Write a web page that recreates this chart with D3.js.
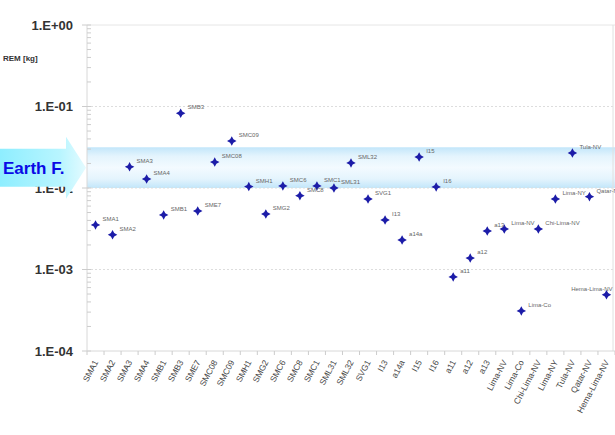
<!doctype html>
<html lang="en">
<head>
  <meta charset="utf-8">
  <title>REM log chart</title>
  <script src="https://d3js.org/d3.v7.min.js"></script>
  <style>
    html, body { margin: 0; padding: 0; background: #fff; }
    body { font-family: "Liberation Sans", Arial, sans-serif; }
    .ylab { font-size: 13px; font-weight: bold; fill: #333; }
    .xlab { font-size: 8.5px; fill: #444; }
    .plab { font-size: 6px; fill: #666; }
  </style>
</head>
<body>
  <div id="chart"></div>
  <script>
    // sample names along the x axis
    const categories = ["SMA1","SMA2","SMA3","SMA4","SMB1","SMB3","SME7","SMC08","SMC09","SMH1",
      "SMG2","SMC6","SMC8","SMC1","SML31","SML32","SVG1","I13","a14a","I15","I16","a11","a12","a13",
      "Lima-NV","Lima-Co","Chi-Lima-NV","Lima-NY","Tula-NV","Qatar-NV","Hema-Lima-NV"];
    // REM [kg]
    const rem = [0.00352,0.00267,0.0182,0.0129,0.00467,0.0826,0.00522,0.0208,0.0377,0.0104,
      0.0048,0.0106,0.00805,0.0106,0.0100,0.0203,0.00733,0.00405,0.0023,0.024,0.0103,
      0.00081,0.00138,0.00297,0.00314,0.00031,0.00314,0.00733,0.0269,0.00782,0.00049];
    const yTicks = [1, 0.1, 0.01, 0.001, 0.0001];
    const yTickLabels = ["1.E+00","1.E-01","1.E-02","1.E-03","1.E-04"];
    const earthBand = [0.01, 0.0316];

    const width = 615, height = 435;
    const margin = { top: 25, right: 0, bottom: 84, left: 87 };
    const innerW = 528, innerH = height - margin.top - margin.bottom;

    const svg = d3.select('#chart').append('svg')
      .attr('width', width).attr('height', height);

    const defs = svg.append('defs');
    const bandGrad = defs.append('linearGradient').attr('id','bandGrad')
      .attr('x1',0).attr('y1',0).attr('x2',0).attr('y2',1);
    [[0,'#c2e6fa'],[0.22,'#e4f4fd'],[0.5,'#f3faff'],[0.78,'#e4f4fd'],[1,'#c2e6fa']]
      .forEach(s => bandGrad.append('stop').attr('offset',s[0]).attr('stop-color',s[1]));
    const arrowGrad = defs.append('linearGradient').attr('id','arrowGrad')
      .attr('x1',0).attr('y1',0).attr('x2',1).attr('y2',0);
    [[0,'#8eeeff'],[0.7,'#b8f5ff'],[1,'#e4fbff']]
      .forEach(s => arrowGrad.append('stop').attr('offset',s[0]).attr('stop-color',s[1]));

    const g = svg.append('g').attr('transform',`translate(${margin.left},${margin.top})`);

    const x = d3.scaleBand().domain(d3.range(categories.length)).range([0, innerW]);
    const y = d3.scaleLog().domain([0.0001, 1]).range([innerH, 0]);

    // Earth F. band
    g.append('rect')
      .attr('x', 0).attr('width', innerW)
      .attr('y', y(earthBand[1])).attr('height', y(earthBand[0]) - y(earthBand[1]))
      .attr('fill', 'url(#bandGrad)');

    // dotted decade gridlines
    g.selectAll('.grid').data(yTicks.slice(1, -1)).join('line')
      .attr('x1', 0).attr('x2', innerW)
      .attr('y1', d => y(d)).attr('y2', d => y(d))
      .attr('stroke', '#ddd').attr('stroke-dasharray', '2,2');

    // frame
    g.append('line').attr('x1',0).attr('x2',innerW).attr('y1',0).attr('y2',0).attr('stroke','#e6e6e6');
    g.append('line').attr('x1',innerW-2).attr('x2',innerW-2).attr('y1',0).attr('y2',innerH).attr('stroke','#e0e0e0');

    // y axis with minor inner ticks
    const minor = [];
    for (let e = -4; e < 0; e++) for (let m = 2; m <= 9; m++) minor.push(m * Math.pow(10, e));
    g.append('line').attr('x1',0).attr('x2',0).attr('y1',0).attr('y2',innerH).attr('stroke','#d8d8d8');
    g.selectAll('.minor').data(minor).join('line')
      .attr('x1', 0).attr('x2', 4)
      .attr('y1', d => y(d)).attr('y2', d => y(d))
      .attr('stroke', '#ccc');
    g.selectAll('.major').data(yTicks).join('line')
      .attr('x1', -5).attr('x2', 4)
      .attr('y1', d => y(d)).attr('y2', d => y(d))
      .attr('stroke', '#ccc');
    g.selectAll('.ylab').data(yTicks).join('text')
      .attr('class', 'ylab')
      .attr('x', -14).attr('y', d => y(d)).attr('dy', '0.35em')
      .attr('text-anchor', 'end')
      .text((d, i) => yTickLabels[i]);

    // x axis
    const xAxis = g.append('g').attr('transform', `translate(0,${innerH})`);
    xAxis.append('line').attr('x1',0).attr('x2',innerW).attr('stroke','#d8d8d8');
    xAxis.selectAll('.xt').data(d3.range(categories.length + 1)).join('line')
      .attr('x1', i => i * x.step()).attr('x2', i => i * x.step())
      .attr('y1', 0).attr('y2', 4).attr('stroke', '#ccc');
    xAxis.selectAll('.xlab').data(d3.range(categories.length)).join('text')
      .attr('class', 'xlab')
      .attr('text-anchor', 'end')
      .attr('transform', i => `translate(${x(i) + x.bandwidth() / 2 + 3},${11}) rotate(-62)`)
      .text(i => categories[i]);

    // markers
    const star = {
      draw(ctx, size) {
        const r = Math.sqrt(size) / 2, s = r * 0.35;
        ctx.moveTo(0, -r); ctx.lineTo(s, -s); ctx.lineTo(r, 0); ctx.lineTo(s, s);
        ctx.lineTo(0, r); ctx.lineTo(-s, s); ctx.lineTo(-r, 0); ctx.lineTo(-s, -s);
        ctx.closePath();
      }
    };
    g.selectAll('.pt').data(rem).join('path')
      .attr('transform', (d, i) => `translate(${x(i) + x.bandwidth() / 2},${y(d)})`)
      .attr('d', d3.symbol().type(star).size(90))
      .attr('fill', '#1c1ca8');
    // last label sits left of its point, as in the source
    const last = categories.length - 1;
    g.selectAll('.plab').data(rem).join('text')
      .attr('class', 'plab')
      .attr('text-anchor', (d, i) => i === last ? 'end' : 'start')
      .attr('x', (d, i) => x(i) + x.bandwidth() / 2 + (i === last ? 6 : 7))
      .attr('y', d => y(d) - 4)
      .text((d, i) => categories[i]);

    // REM label
    svg.append('text').attr('x', 3).attr('y', 61)
      .attr('font-size', 8).attr('font-weight', 'bold').attr('fill', '#333')
      .text('REM [kg]');

    // Earth F. arrow
    const yc = margin.top + (y(earthBand[0]) + y(earthBand[1])) / 2;
    svg.append('path')
      .attr('d', `M0,${yc-19} L66,${yc-19} L66,${yc-31} L86,${yc} L66,${yc+31} L66,${yc+19} L0,${yc+19} Z`)
      .attr('fill', 'url(#arrowGrad)');
    svg.append('text').attr('x', 3).attr('y', yc + 6)
      .attr('font-size', 17).attr('font-weight', 'bold').attr('fill', '#0a0ae6')
      .text('Earth F.');
  </script>
</body>
</html>
